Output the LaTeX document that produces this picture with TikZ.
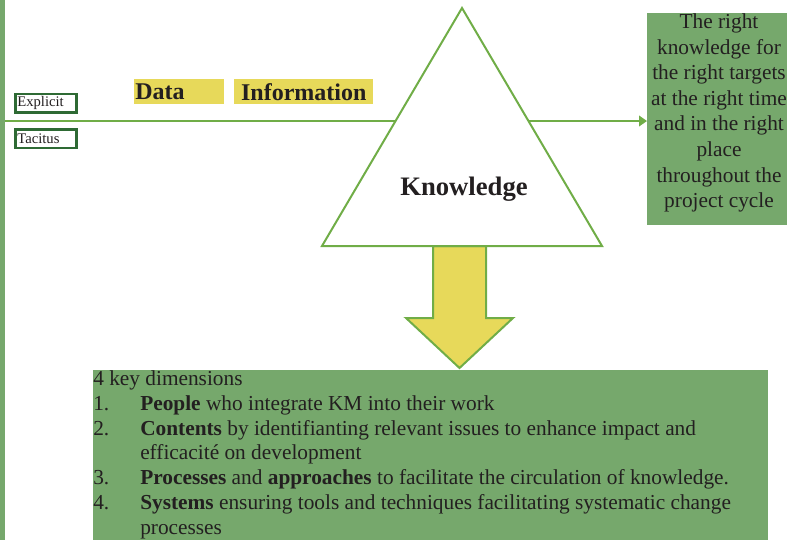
\documentclass[tikz,border=0pt]{standalone}
\usepackage{fontspec}
\setmainfont{Liberation Serif}
\usepackage{xcolor}
\usepackage{tikz}
\usetikzlibrary{arrows.meta}
\usetikzlibrary{calc}
\usetikzlibrary{positioning}
\tikzset{>=latex}

\definecolor{kmline}{RGB}{112,173,71}
\definecolor{kmfill}{RGB}{118,168,108}
\definecolor{kmdark}{RGB}{46,106,52}
\definecolor{kmyellow}{RGB}{231,217,90}
\definecolor{kmtext}{RGB}{35,31,32}

\begin{document}
\begin{tikzpicture}[
        x=0.75pt, y=-0.75pt,
        greenline/.style={draw=kmline, line width=1.5pt},
        tagbox/.style={draw=kmdark, line width=2pt, fill=white, inner xsep=1.5pt, inner ysep=0pt,
            minimum width=46pt, minimum height=14pt, text width=43pt, align=left,
            font=\fontsize{11}{12}\selectfont, text=kmtext},
        highlight/.style={fill=kmyellow, inner sep=0pt, minimum height=18.75pt,
            font=\fontsize{18}{20}\selectfont\bfseries, text=kmtext},
        greentext/.style={inner sep=0pt, text=kmtext}
    ]

    %=== Frame ===%
    \useasboundingbox (0,0) rectangle (787,540);
    \fill[kmfill] (0,0) rectangle (5,540);

    %=== Output box (right) ===%
    \fill[kmfill] (647,13) rectangle (787,225);
    \node[greentext, anchor=north, align=center,
        font=\fontsize{16}{19.2}\selectfont] (target) at (719,13.5)
        {The right\\ knowledge for\\ the right targets\\ at the right time\\ and in the right\\ place\\ throughout the\\ project cycle};
    \coordinate (rbox) at (647,121);

    %=== Main line ===%
    \coordinate (lstart) at (5,121);
    \draw[greenline, line width=1.2pt, -{Triangle[length=6pt, width=8pt]}] (lstart) -- (rbox);

    %=== Tags ===%
    \node[tagbox, anchor=north west] (explicit) at (14,92.5) {Explicit};
    \node[tagbox, anchor=north west] (tacitus) at (14,128) {Tacitus};

    \node[highlight, anchor=north west, minimum width=67.5pt, text width=66pt, inner xsep=0.75pt, align=left] (data) at (134,79) {Data};
    \node[highlight, anchor=north west, minimum width=104.25pt, align=center] (info) at (234,79) {Information};

    %=== Down arrow ===%
    \draw[greenline, fill=kmyellow] (433,246) -- (433,318) -- (406,318) -- (459.5,368)
        -- (513,318) -- (486,318) -- (486,246) -- cycle;

    %=== Triangle ===%
    \coordinate (apex) at (462,8);
    \coordinate (bleft) at (322,246);
    \coordinate (bright) at (602,246);
    \draw[greenline, fill=white] (apex) -- (bleft) -- (bright) -- cycle;
    \node[greentext, font=\fontsize{20}{24}\selectfont\bfseries] (know) at (464,189) {Knowledge};

    %=== Dimensions box ===%
    \newcommand{\dimline}[2]{\makebox[35.25pt][l]{#1}#2}
    \fill[kmfill] (93,370) rectangle (768,540);
    \node[greentext, anchor=north west, align=left, font=\fontsize{16}{18.6}\selectfont] (dims) at (93,370.5) {
        4 key dimensions\\
        \dimline{1.}{\textbf{People} who integrate KM into their work}\\
        \dimline{2.}{\textbf{Contents} by identifianting relevant issues to enhance impact and}\\
        \dimline{}{efficacité on development}\\
        \dimline{3.}{\textbf{Processes} and \textbf{approaches} to facilitate the circulation of knowledge.}\\
        \dimline{4.}{\textbf{Systems} ensuring tools and techniques facilitating systematic change}\\
        \dimline{}{processes}};

\end{tikzpicture}
\end{document}
